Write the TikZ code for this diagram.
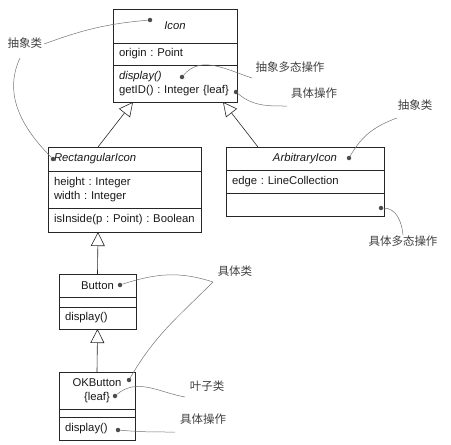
\documentclass[tikz,border=0pt]{standalone}
\usepackage{fontspec}
\setmainfont{Liberation Sans}
\newfontfamily\cjk{Noto Sans CJK SC}
\usepackage{xcolor}
\usepackage{tikz}
\usetikzlibrary{positioning, arrows.meta}

\frenchspacing
\newcommand{\umlfont}{\fontsize{11.3}{14}\selectfont}

\begin{document}
\begin{tikzpicture}[x=1pt, y=1pt,
        uml/.style={draw=black!85, line width=0.6pt, outer sep=0pt, inner xsep=6pt, inner ysep=0pt, font=\umlfont, text=black!90},
        part/.style={uml, text width=#1, align=left},
        dot/.style={circle, fill=black!70, inner sep=0pt, minimum size=4.5pt},
        note/.style={draw=black!55, line width=0.5pt},
        lab/.style={font=\cjk\fontsize{11.5}{13}\selectfont, text=black!75, inner sep=1pt},
        gen/.style={draw=black!85, line width=0.6pt, -{Triangle[open, width=14pt, length=14pt]}}]
        \useasboundingbox (0,0) rectangle (451,-445);

        % Icon
        \node[uml, anchor=north, minimum width=124pt, minimum height=34pt, font=\umlfont\itshape] (icon) at (175,-9) {Icon};
        \node[part=112pt, minimum height=22pt, below=0pt of icon] (iconAttr) {origin : Point};
        \node[part=112pt, minimum height=37pt, below=0pt of iconAttr] (iconOps) {\textit{display()}\\getID() : Integer \{leaf\}};

        % RectangularIcon
        \node[part=141pt, anchor=north, minimum height=24pt, font=\umlfont\itshape] (rect) at (124.5,-147) {RectangularIcon};
        \node[part=141pt, minimum height=37pt, below=0pt of rect] (rectAttr) {height : Integer\\width : Integer};
        \node[part=141pt, minimum height=24pt, below=0pt of rectAttr] (rectOps) {\mbox{isInside(p : Point) : Boolean}};

        % ArbitraryIcon
        \node[uml, anchor=north, minimum width=158pt, minimum height=23pt, font=\umlfont\itshape] (arb) at (305,-147) {ArbitraryIcon};
        \node[part=146pt, minimum height=23pt, below=0pt of arb] (arbAttr) {edge : LineCollection};
        \node[uml, minimum width=158pt, minimum height=23pt, below=0pt of arbAttr] (arbOps) {};

        % Button
        \node[uml, anchor=north, minimum width=77pt, minimum height=23pt] (button) at (97.5,-274) {Button};
        \node[uml, minimum width=77pt, minimum height=10pt, below=0pt of button] (buttonAttr) {};
        \node[part=65pt, minimum height=22pt, below=0pt of buttonAttr] (buttonOps) {display()};

        % OKButton
        \node[uml, anchor=north, minimum width=76pt, minimum height=37pt, align=center] (okb) at (97,-372) {OKButton\\\{leaf\}};
        \node[uml, minimum width=76pt, minimum height=8pt, below=0pt of okb] (okbAttr) {};
        \node[part=64pt, minimum height=23pt, below=0pt of okbAttr] (okbOps) {display()};

        \draw[gen] ([xshift=-26.5pt]rect.north) -- ([xshift=-42pt]iconOps.south);
        \draw[gen] ([xshift=-47pt]arb.north) -- ([xshift=48pt]iconOps.south);
        \draw[gen] (button.north) -- ([xshift=-26.5pt]rectOps.south);
        \draw[gen] (okb.north) -- (buttonOps.south);

        % notes
        \node[lab] (absL) at (25,-43) {抽象类};
        \node[lab] (absPoly) at (290,-67) {抽象多态操作};
        \node[lab] (concOp) at (314,-93) {具体操作};
        \node[lab] (absR) at (415,-105) {抽象类};
        \node[lab] (concPoly) at (403,-241) {具体多态操作};
        \node[lab] (concCls) at (235,-271) {具体类};
        \node[lab] (leafCls) at (207,-386) {叶子类};
        \node[lab] (concOp2) at (203,-419) {具体操作};

        \node[dot] (dIcon) at (150,-20) {};
        \node[dot] (dRect) at (53,-159) {};
        \node[dot] (dDisp) at (182,-77) {};
        \node[dot] (dGetID) at (236,-92) {};
        \node[dot] (dArb) at (349,-158) {};
        \node[dot] (dArbOps) at (381,-208) {};
        \node[dot] (dButton) at (120,-285) {};
        \node[dot] (dOkb) at (129,-380) {};
        \node[dot] (dLeaf) at (115,-396) {};
        \node[dot] (dOkbOps) at (118,-430) {};

        \coordinate (absLa) at (44,-44);
        \coordinate (absLb) at (20,-58);
        \coordinate (absPolyE) at (252,-78);
        \coordinate (concOpE) at (287,-106);
        \coordinate (absRE) at (397,-118);
        \coordinate (concPolyE) at (403,-235);
        \coordinate (concClsE) at (213,-282);
        \coordinate (leafClsE) at (185,-397);
        \coordinate (concOp2E) at (175,-432);

        \path[note]
        (dIcon) edge[out=185, in=20] (absLa)
        (absLb) edge[out=245, in=135] (dRect)
        (dDisp) edge[out=50, in=162] (absPolyE)
        (dGetID) edge[out=-40, in=180] (concOpE)
        (absRE) edge[out=200, in=60] (dArb)
        (dArbOps) edge[out=0, in=95] (concPolyE)
        (dButton) edge[out=18, in=162] (concClsE)
        (concClsE) edge[out=225, in=60] (dOkb)
        (dLeaf) edge[out=40, in=170] (leafClsE)
        (dOkbOps) edge[out=-5, in=180] (concOp2E);

    \end{tikzpicture}
\end{document}
